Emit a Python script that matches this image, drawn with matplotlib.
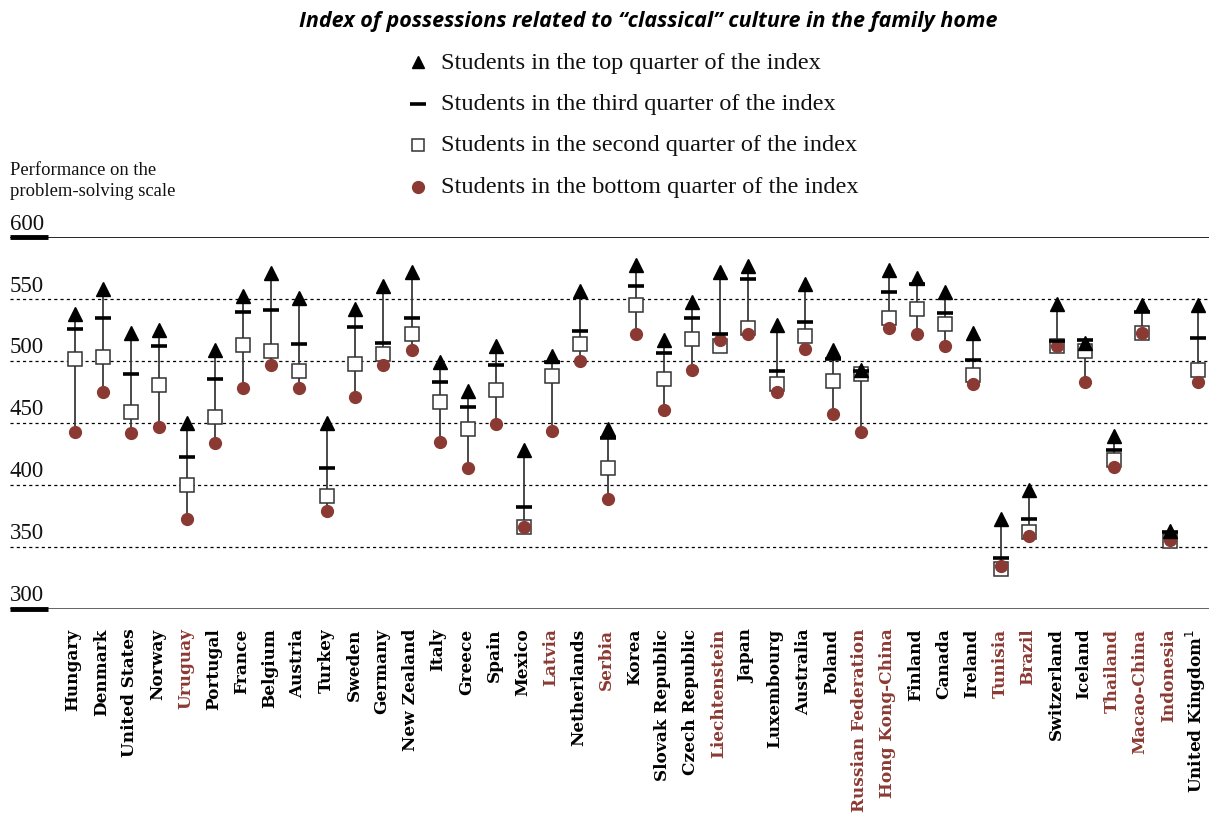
import matplotlib
matplotlib.use("Agg")
import matplotlib.pyplot as plt
import matplotlib.transforms as mtransforms
from matplotlib.lines import Line2D

countries = ["Hungary", "Denmark", "United States", "Norway", "Uruguay", "Portugal",
             "France", "Belgium", "Austria", "Turkey", "Sweden", "Germany",
             "New Zealand", "Italy", "Greece", "Spain", "Mexico", "Latvia",
             "Netherlands", "Serbia", "Korea", "Slovak Republic", "Czech Republic",
             "Liechtenstein", "Japan", "Luxembourg", "Australia", "Poland",
             "Russian Federation", "Hong Kong-China", "Finland", "Canada", "Ireland",
             "Tunisia", "Brazil", "Switzerland", "Iceland", "Thailand",
             "Macao-China", "Indonesia", "United Kingdom$^1$"]

partners = ["Uruguay", "Latvia", "Serbia", "Liechtenstein", "Russian Federation",
            "Hong Kong-China", "Tunisia", "Brazil", "Thailand", "Macao-China",
            "Indonesia"]

top_q = [538, 558, 523, 525, 450, 509, 553, 571, 551, 450, 542, 561,
         572, 499, 476, 512, 428, 504, 557, 445, 578, 517, 548,
         572, 577, 529, 562, 509, 493, 574, 567, 556, 523,
         373, 396, 546, 515, 440, 545, 363, 545]
third_q = [526, 535, 490, 512, 423, 486, 540, 541, 514, 414, 528, 515,
           535, 483, 463, 497, 382, 499, 524, 438, 561, 507, 535,
           522, 566, 492, 532, 502, 492, 556, 562, 539, 501,
           341, 373, 516, 517, 428, 540, 362, 519]
second_q = [502, 503, 459, 481, 400, 455, 513, 508, 492, 391, 498, 506,
            522, 467, 445, 477, 366, 488, 514, 414, 545, 486, 518,
            512, 527, 482, 520, 484, 490, 535, 542, 530, 489,
            332, 362, 512, 508, 420, 523, 355, 493]
bottom_q = [443, 475, 442, 447, 373, 434, 478, 497, 478, 379, 471, 497,
            509, 435, 414, 449, 366, 444, 500, 389, 522, 461, 493,
            517, 522, 475, 510, 457, 443, 527, 522, 512, 482,
            335, 359, 512, 483, 415, 523, 356, 483]

ticks = [300, 350, 400, 450, 500, 550, 600]

red = "#8b3a33"
serif = "Liberation Serif"

fig = plt.figure(figsize=(12.09, 8.2), dpi=100)
ax = fig.add_axes([10 / 1209, 1 - 610 / 820, 1 - 10 / 1209, (610 - 238.3) / 820])
n = len(countries)
x = list(range(n))
ax.set_xlim(-2.3, 40.4)
ax.set_ylim(300, 600)
for s in ax.spines.values():
    s.set_visible(False)
ax.set_xticks([])
ax.set_yticks([])

# grid and frame lines
for t in ticks[1:-1]:
    ax.axhline(t, color="black", lw=0.9, ls=(0, (2.5, 2.5)), zorder=1)
ax.axhline(600, color="black", lw=1.2, zorder=1)
ax.axhline(300, color="#555555", lw=2.0, zorder=1)
trans = mtransforms.blended_transform_factory(ax.transAxes, ax.transData)
for t in (300, 600):
    ax.plot([0, 38 / 1199], [t, t], color="black", lw=3.5, transform=trans,
            solid_capstyle="butt", zorder=2, clip_on=False)
for t in ticks:
    ax.text(0, t + 3, str(t), transform=trans, ha="left", va="bottom",
            fontsize=16.5, family=serif, color="#111111")

# range lines and markers per country
for i in x:
    vals = [top_q[i], third_q[i], second_q[i], bottom_q[i]]
    ax.plot([i, i], [min(vals), max(vals)], color="#3a3a3a", lw=1.3, zorder=2)
ax.plot(x, second_q, ls="none", marker="s", ms=9.5, mfc="white", mec="#333333",
        mew=1.1, zorder=3)
ax.plot(x, bottom_q, ls="none", marker="o", ms=8.5, mfc=red, mec=red, zorder=4)
ax.plot(x, third_q, ls="none", marker="_", ms=12, mew=2.6, color="black", zorder=5)
ax.plot(x, top_q, ls="none", marker="^", ms=9.5, color="black", zorder=6)

# country labels
lab_trans = mtransforms.blended_transform_factory(ax.transData, ax.transAxes)
for i, c in enumerate(countries):
    col = red if c in partners else "black"
    ax.text(i - 0.05, -0.05, c, transform=lab_trans,
            rotation=90, ha="center", va="top", fontsize=12.2, fontweight="bold",
            family="DejaVu Serif", color=col)

# title and legend
fig.text(648 / 1209, 1 - 22 / 820,
         "Index of possessions related to \u201cclassical\u201d culture in the family home",
         ha="center", va="center", fontsize=15.5, fontweight="bold", style="italic",
         family="Open Sans")
legend_items = [
    (dict(marker="^", ms=9, color="black", ls="none"), "Students in the top quarter of the index"),
    (dict(marker="_", ms=12, mew=2.6, color="black", ls="none"), "Students in the third quarter of the index"),
    (dict(marker="s", ms=8.5, mfc="white", mec="#333333", mew=1.1, ls="none"), "Students in the second quarter of the index"),
    (dict(marker="o", ms=8.5, mfc=red, mec=red, ls="none"), "Students in the bottom quarter of the index"),
]
for k, (style, label) in enumerate(legend_items):
    yy = 1 - (63 + k * 41.5) / 820
    fig.add_artist(Line2D([418 / 1209], [yy], transform=fig.transFigure, **style))
    fig.text(441 / 1209, yy, label, ha="left", va="center", fontsize=17.5,
             family=serif, color="#111111")

fig.text(10 / 1209, 1 - 181 / 820, "Performance on the\nproblem-solving scale",
         ha="left", va="center", fontsize=13.4, family=serif, color="#111111",
         linespacing=1.25)

fig.savefig("out.png", dpi=100)
